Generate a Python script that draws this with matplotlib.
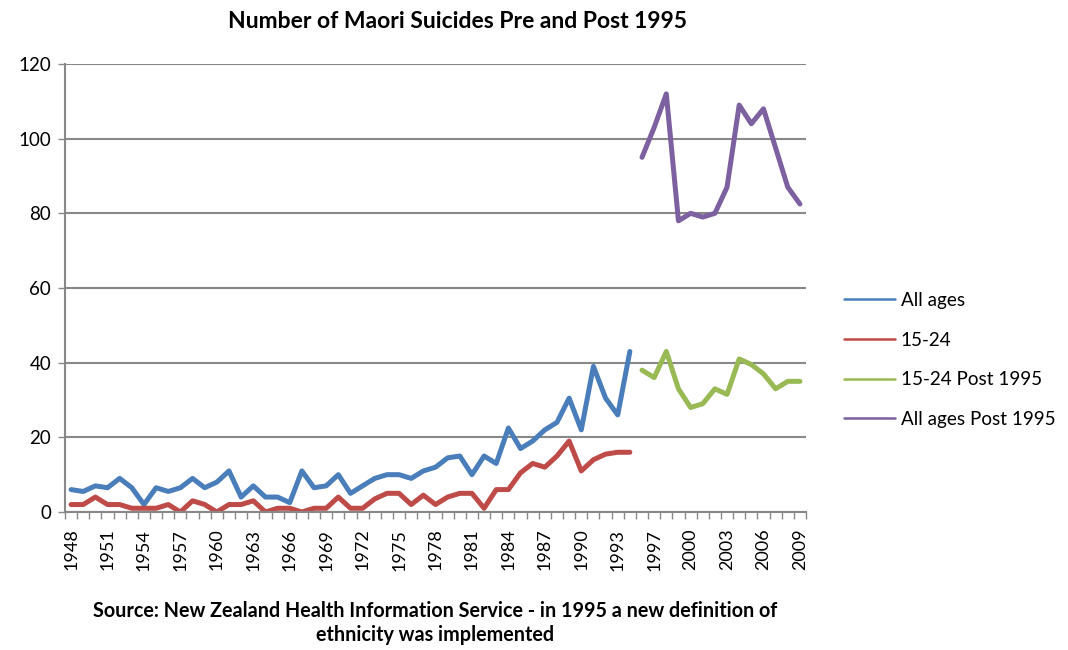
import matplotlib
matplotlib.use("Agg")
import matplotlib.pyplot as plt
import numpy as np

plt.rcParams['font.family'] = ['Lato', 'DejaVu Sans']

# categories: 1948-1993, 1995-2009 (one year absent in the source sheet)
years = list(range(1948, 1994)) + list(range(1995, 2010))

all_ages = [6, 5.5, 7, 6.5, 9, 6.5, 2, 6.5, 5.5, 6.5, 9, 6.5, 8, 11, 4, 7, 4, 4, 2.5, 11,
            6.5, 7, 10, 5, 7, 9, 10, 10, 9, 11, 12, 14.5, 15, 10, 15, 13, 22.5, 17, 19, 22,
            24, 30.5, 22, 39, 30.5, 26, 43]
age_15_24 = [2, 2, 4, 2, 2, 1, 1, 1, 2, 0, 3, 2, 0, 2, 2, 3, 0, 1, 1, 0,
             1, 1, 4, 1, 1, 3.5, 5, 5, 2, 4.5, 2, 4, 5, 5, 1, 6, 6, 10.5, 13, 12,
             15, 19, 11, 14, 15.5, 16, 16]
age_15_24_post = [38, 36, 43, 33, 28, 29, 33, 31.5, 41, 39.5, 37, 33, 35, 35]
all_ages_post = [95, 103, 112, 78, 80, 79, 80, 87, 109, 104, 108, 97.5, 87, 82.5]

series = [
    ("All ages", all_ages, 0, "#4A7EBB"),
    ("15-24", age_15_24, 0, "#BE4B48"),
    ("15-24 Post 1995", age_15_24_post, len(all_ages), "#98B954"),
    ("All ages Post 1995", all_ages_post, len(all_ages), "#7D60A0"),
]

fig = plt.figure(figsize=(10.68, 6.5), dpi=100)
ax = fig.add_axes([65 / 1068, 1 - 512 / 650, 741 / 1068, 448 / 650])

for name, vals, start, color in series:
    x = np.arange(start, start + len(vals))
    ax.plot(x, vals, color=color, linewidth=3.6, label=name, solid_joinstyle='round',
            solid_capstyle='round')

ax.set_xlim(-0.5, len(years) - 0.5)
ax.set_ylim(0, 120)
ax.set_yticks(range(0, 121, 20))
ax.yaxis.grid(True, color='#888888', linewidth=1.5)
ax.set_axisbelow(True)

ax.set_xticks(range(0, len(years), 3))
ax.set_xticklabels([str(years[i]) for i in range(0, len(years), 3)], rotation=90)
ax.set_xticks(np.arange(-0.5, len(years), 1), minor=True)
ax.tick_params(axis='x', which='major', length=0, labelsize=13, pad=12)
ax.tick_params(axis='x', which='minor', length=5, color='#888888', width=1)
ax.tick_params(axis='y', length=5, color='#888888', width=1, labelsize=13.5, pad=5)

for side in ['top', 'right']:
    ax.spines[side].set_visible(False)
for side in ['left', 'bottom']:
    ax.spines[side].set_color('#888888')
    ax.spines[side].set_linewidth(1.5)

ax.legend(loc='upper left', bbox_to_anchor=(827 / 1068, 1 - 275 / 650),
          bbox_transform=fig.transFigure, frameon=False, fontsize=13.6,
          handlelength=2.7, handletextpad=0.3, labelspacing=1.2)
for line in ax.get_legend().get_lines():
    line.set_linewidth(1.8)

fig.text(457 / 1068, 1 - 22 / 650, "Number of Maori Suicides Pre and Post 1995",
         ha='center', va='center', fontsize=16.5, fontweight='bold')
fig.text(435 / 1068, 1 - 623 / 650,
         "Source: New Zealand Health Information Service - in 1995 a new definition of\n"
         "ethnicity was implemented",
         ha='center', va='center', fontsize=14.2, fontweight='bold', linespacing=1.2)

fig.savefig("out.png", dpi=100)
